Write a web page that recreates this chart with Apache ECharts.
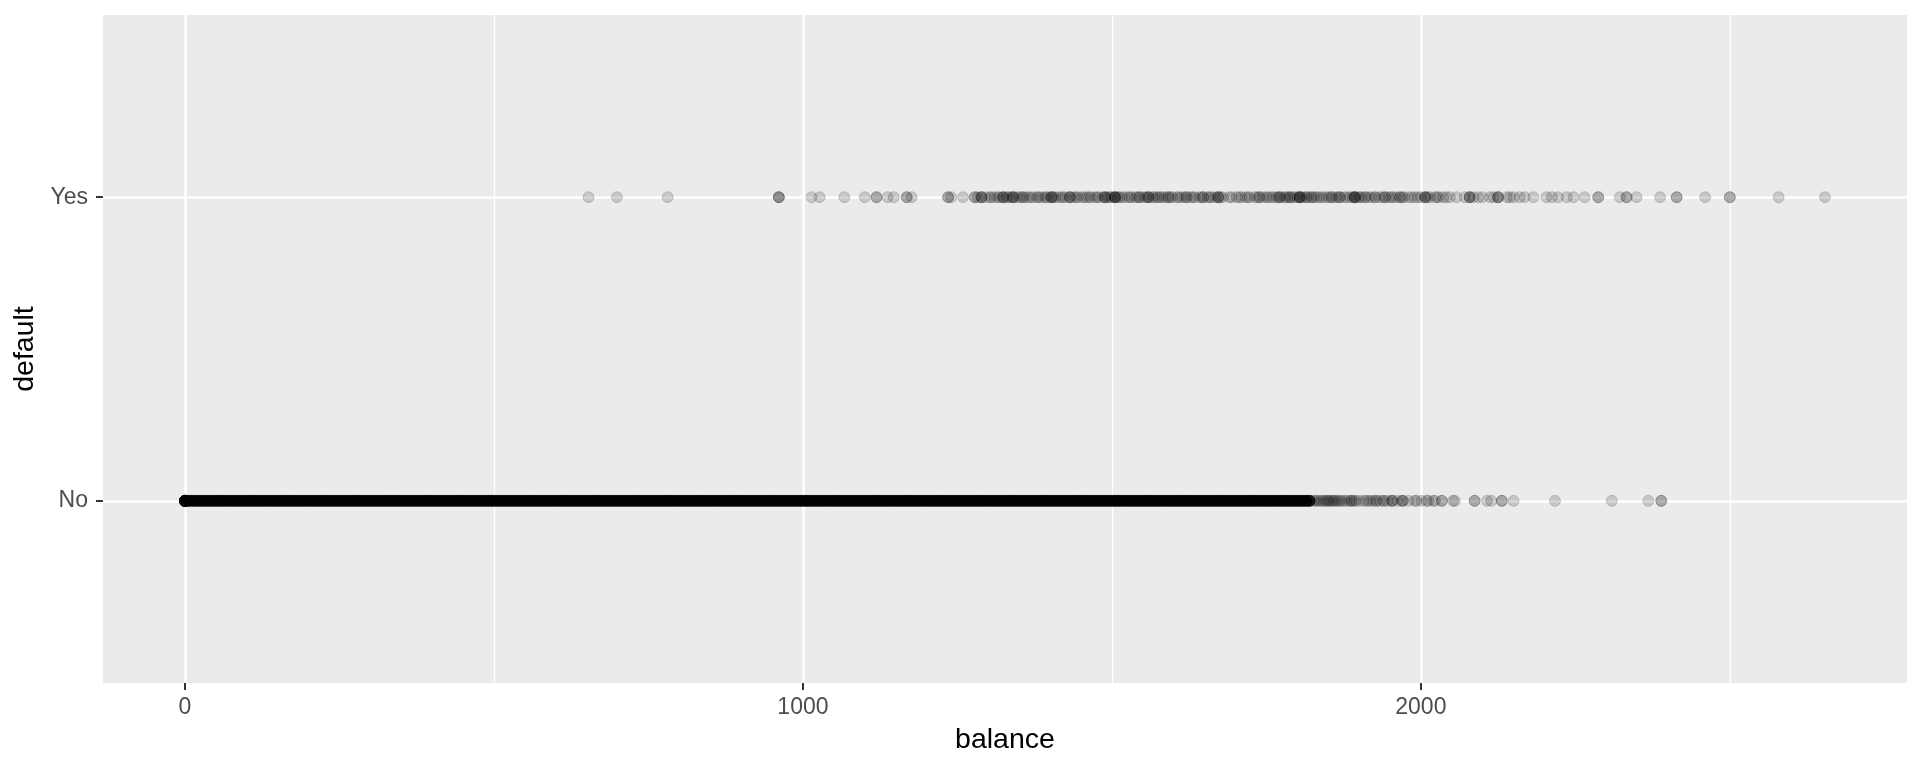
<!DOCTYPE html>
<html><head><meta charset="utf-8">
<script src="https://cdn.jsdelivr.net/npm/echarts@6/dist/echarts.min.js"></script>
<style>html,body{margin:0;padding:0;background:#fff}#c{width:1920px;height:768px}</style>
</head><body><div id="c"></div>
<script>
const categories = ['No', 'Yes'];
const xTickValues = [0, 1000, 2000];
const xMinorGridValues = [500, 1500, 2500];
// saturated (visually solid black) part of the "No" row
const noBalanceDense = [0,0,0,0,0,5,10,15,20,25,30,35,40,45,50,55,60,65,70,75,80,85,90,95,100,105,110,115,120,125,130,135,140,145,150,155,160,165,170,175,180,185,190,195,200,205,210,215,220,225,230,235,240,245,250,255,260,265,270,275,280,285,290,295,300,305,310,315,320,325,330,335,340,345,350,355,360,365,370,375,380,385,390,395,400,405,410,415,420,425,430,435,440,445,450,455,460,465,470,475,480,485,490,495,500,505,510,515,520,525,530,535,540,545,550,555,560,565,570,575,580,585,590,595,600,605,610,615,620,625,630,635,640,645,650,655,660,665,670,675,680,685,690,695,700,705,710,715,720,725,730,735,740,745,750,755,760,765,770,775,780,785,790,795,800,805,810,815,820,825,830,835,840,845,850,855,860,865,870,875,880,885,890,895,900,905,910,915,920,925,930,935,940,945,950,955,960,965,970,975,980,985,990,995,1000,1005,1010,1015,1020,1025,1030,1035,1040,1045,1050,1055,1060,1065,1070,1075,1080,1085,1090,1095,1100,1105,1110,1115,1120,1125,1130,1135,1140,1145,1150,1155,1160,1165,1170,1175,1180,1185,1190,1195,1200,1205,1210,1215,1220,1225,1230,1235,1240,1245,1250,1255,1260,1265,1270,1275,1280,1285,1290,1295,1300,1305,1310,1315,1320,1325,1330,1335,1340,1345,1350,1355,1360,1365,1370,1375,1380,1385,1390,1395,1400,1405,1410,1415,1420,1425,1430,1435,1440,1445,1450,1455,1460,1465,1470,1475,1480,1485,1490,1495,1500,1505,1510,1515,1520,1525,1530,1535,1540,1545,1550,1555,1560,1565,1570,1575,1580,1585,1590,1595,1600,1605,1610,1615,1620,1625,1630,1635,1640,1645,1650,1655,1660,1665,1670,1675,1680,1685,1690,1695,1700,1705,1710,1715,1720,1725,1730,1735,1740,1745,1750,1755,1760,1765,1770,1775,1780,1785,1790,1795,1800,1805,1810,1815,1820];
// individually visible points at the tail of the "No" row
const noBalanceSparse = [1826,1829,1832,1835,1839,1842,1845,1848,1850,1852,1855,1858,1860,1863,1866,1869,1872,1876,1880,1884,1888,1888,1892,1895,1900,1907,1911,1915,1919,1923,1928,1928,1934,1939,1941,1946,1953,1953,1955,1962,1969,1971,1971,1980,1990,1993,2001,2009,2012,2020,2023,2034,2034,2052,2055,2087,2087,2107,2114,2131,2131,2150,2217,2309,2368,2389,2389];
// "Yes" row
const yesBalance = [653,699,781,961,961,961,1014,1027,1067,1100,1119,1119,1137,1147,1168,1168,1176,1235,1235,1240,1259,1278,1278,1283,1289,1289,1289,1296,1302,1305,1310,1315,1318,1324,1324,1324,1329,1332,1336,1340,1340,1340,1345,1350,1354,1356,1359,1364,1368,1372,1378,1381,1384,1390,1393,1396,1402,1402,1402,1405,1408,1413,1418,1421,1425,1432,1432,1432,1438,1442,1445,1451,1455,1459,1463,1466,1472,1476,1478,1485,1489,1489,1489,1494,1497,1500,1505,1505,1505,1505,1509,1512,1516,1520,1526,1529,1532,1538,1541,1545,1545,1551,1555,1559,1559,1559,1565,1568,1572,1575,1578,1582,1586,1591,1591,1595,1598,1605,1608,1612,1617,1621,1621,1627,1631,1634,1641,1645,1648,1648,1655,1658,1661,1667,1672,1672,1672,1676,1680,1690,1694,1702,1706,1710,1716,1720,1723,1731,1735,1739,1739,1745,1750,1753,1758,1762,1767,1770,1772,1772,1778,1781,1784,1788,1788,1792,1796,1800,1804,1804,1804,1804,1808,1812,1815,1817,1823,1823,1827,1831,1835,1839,1843,1848,1852,1856,1856,1862,1866,1869,1869,1876,1880,1885,1889,1893,1893,1893,1893,1898,1901,1904,1910,1910,1916,1920,1926,1926,1933,1938,1942,1942,1948,1952,1955,1960,1966,1966,1970,1973,1980,1985,1990,1995,2000,2007,2007,2007,2011,2015,2023,2026,2029,2036,2041,2047,2058,2071,2079,2079,2079,2085,2093,2100,2112,2118,2125,2125,2125,2139,2144,2150,2160,2168,2182,2203,2212,2222,2236,2247,2265,2287,2287,2322,2333,2333,2349,2387,2414,2414,2460,2500,2500,2579,2654];

const all = noBalanceDense.concat(noBalanceSparse, yesBalance);
const lo = Math.min.apply(null, all), hi = Math.max.apply(null, all);
const pad = (hi - lo) * 0.05;
const FONT = 'Liberation Sans, Arial, Helvetica, sans-serif';
const chart = echarts.init(document.getElementById('c'), null, {renderer: 'canvas'});
const faint = {color: 'rgba(0,0,0,0.2)', borderColor: 'rgba(0,0,0,0.2)', borderWidth: 1};
const solid = {color: '#000000', borderColor: '#000000', borderWidth: 1};
function rows(values, level) { return values.map(v => [v, level]); }
chart.setOption({
  animation: false,
  backgroundColor: '#ffffff',
  grid: {left: 103, right: 13, top: 15, bottom: 85, show: true, backgroundColor: '#EBEBEB', borderWidth: 0, containLabel: false},
  xAxis: [{
    type: 'value', min: lo - pad, max: hi + pad,
    name: 'balance', nameLocation: 'middle', nameGap: 43,
    nameTextStyle: {color: '#000', fontSize: 28.5, fontFamily: FONT},
    axisLine: {show: false, onZero: false},
    axisTick: {show: true, customValues: xTickValues, length: 7, lineStyle: {color: '#333333', width: 2}},
    axisLabel: {show: true, customValues: xTickValues, margin: 13, color: '#4D4D4D', fontSize: 23, fontFamily: FONT,
      formatter: v => String(v)},
    splitLine: {show: true, lineStyle: {color: '#ffffff', width: 2.5}}
  }, {
    type: 'value', min: lo - pad, max: hi + pad, position: 'bottom',
    axisLine: {show: false, onZero: false},
    axisTick: {show: false, customValues: xMinorGridValues},
    axisLabel: {show: false, customValues: xMinorGridValues},
    splitLine: {show: true, lineStyle: {color: '#ffffff', width: 1.2}}
  }],
  yAxis: {
    type: 'value', min: 0.4, max: 2.6,
    name: 'default', nameLocation: 'middle', nameGap: 57, nameRotate: 90,
    nameTextStyle: {color: '#000', fontSize: 28.5, fontFamily: FONT},
    axisLine: {show: false, onZero: false},
    axisTick: {show: true, customValues: [1, 2], length: 7, lineStyle: {color: '#333333', width: 2}},
    axisLabel: {show: true, customValues: [1, 2], margin: 15, color: '#4D4D4D', fontSize: 23, fontFamily: FONT,
      formatter: v => categories[Math.round(v) - 1]},
    splitLine: {show: true, lineStyle: {color: '#ffffff', width: 2.5}}
  },
  series: [
    {type: 'scatter', name: 'No', silent: true, symbol: 'circle', symbolSize: 11, itemStyle: solid, data: rows(noBalanceDense, 1)},
    {type: 'scatter', name: 'No', silent: true, symbol: 'circle', symbolSize: 11, itemStyle: faint, data: rows(noBalanceSparse, 1)},
    {type: 'scatter', name: 'Yes', silent: true, symbol: 'circle', symbolSize: 11, itemStyle: faint, data: rows(yesBalance, 2)}
  ]
});
</script></body></html>
